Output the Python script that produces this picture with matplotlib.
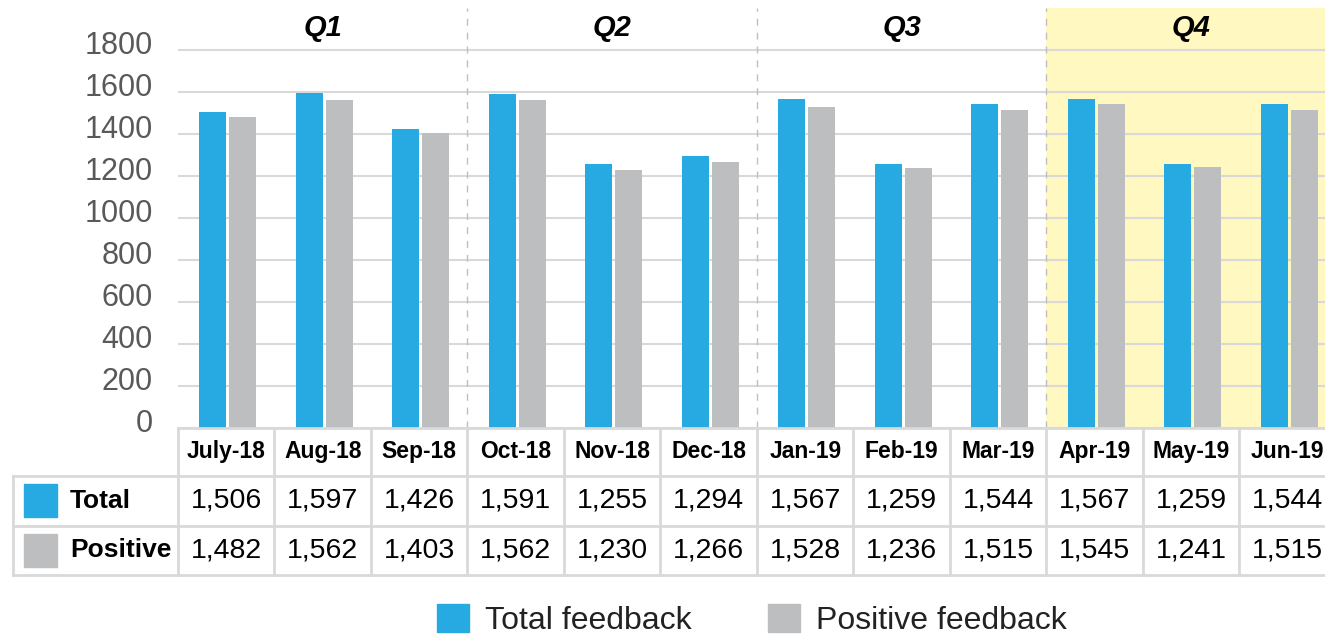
import matplotlib.pyplot as plt
import matplotlib.transforms as mtransforms
from matplotlib.patches import Rectangle, Patch

months = ["July-18", "Aug-18", "Sep-18", "Oct-18", "Nov-18", "Dec-18",
          "Jan-19", "Feb-19", "Mar-19", "Apr-19", "May-19", "Jun-19"]
total = [1506, 1597, 1426, 1591, 1255, 1294, 1567, 1259, 1544, 1567, 1259, 1544]
positive = [1482, 1562, 1403, 1562, 1230, 1266, 1528, 1236, 1515, 1545, 1241, 1515]
quarters = ["Q1", "Q2", "Q3", "Q4"]
row_labels = ["Total", "Positive"]
legend_labels = ["Total feedback", "Positive feedback"]

blue = "#27A9E1"
gray = "#BDBEC0"
grid_c = "#D9D9D9"

plt.rcParams['font.family'] = ['Liberation Sans', 'DejaVu Sans']

W, H = 1325, 635
fig = plt.figure(figsize=(W / 100, H / 100), dpi=100)
# plot area: x from 178px, bottom at 428px, 12 columns of ~96.5px (cropped on right)
ax = fig.add_axes([178 / W, 1 - 428 / H, 12 * 96.5 / W, 420 / H])
ax.set_xlim(-0.5, 11.5)
ax.set_ylim(0, 2000)

x = list(range(len(months)))
ax.axvspan(8.5, 11.5, color="#FFF8C1", zorder=0, lw=0)
ax.bar([i - 0.14 for i in x], total, width=0.28, color=blue, zorder=3)
ax.bar([i + 0.17 for i in x], positive, width=0.28, color=gray, zorder=3)

ax.set_yticks(range(0, 1801, 200))
ax.yaxis.grid(True, color=grid_c, lw=1.5, zorder=1)
ax.set_axisbelow(True)
ax.tick_params(axis='y', length=0, pad=18, labelsize=22, labelcolor="#595959")
# labels sit a little above their gridlines
up = mtransforms.ScaledTranslation(0, 8 / 100, fig.dpi_scale_trans)
for lbl in ax.get_yticklabels():
    lbl.set_transform(lbl.get_transform() + up)
ax.set_xticks([])
for s in ax.spines.values():
    s.set_visible(False)

ax.vlines([2.5, 5.5, 8.5], 0, 2000, colors="#BFBFBF", linestyles=(0, (5, 5)), lw=1, zorder=2)
for qi, q in enumerate(quarters):
    ax.text(qi * 3 + 1, 1905, q, ha='center', va='center', fontsize=21,
            fontweight='bold', fontstyle='italic', color='black')

# data table under the plot
trans = ax.get_xaxis_transform()
left = (13 - 178) / 96.5 - 0.5
y_rows = [0, -0.114, -0.233, -0.35]
lk = dict(color=grid_c, lw=2, transform=trans, clip_on=False, zorder=4)
ax.plot([-0.5, 11.5], [y_rows[0]] * 2, **lk)
for yy in y_rows[1:]:
    ax.plot([left, 11.5], [yy] * 2, **lk)
ax.plot([left, left], [y_rows[1], y_rows[3]], **lk)
for b in [i - 0.5 for i in range(13)]:
    ax.plot([b, b], [y_rows[0], y_rows[3]], **lk)

for i, m in enumerate(months):
    ax.text(i, (y_rows[0] + y_rows[1]) / 2, m, transform=trans, ha='center', va='center',
            fontsize=16.5, fontweight='bold', clip_on=False)
    ax.text(i, (y_rows[1] + y_rows[2]) / 2, f"{total[i]:,}", transform=trans,
            ha='center', va='center', fontsize=20.5, clip_on=False)
    ax.text(i, (y_rows[2] + y_rows[3]) / 2, f"{positive[i]:,}", transform=trans,
            ha='center', va='center', fontsize=20.5, clip_on=False)

sq_x = (24 - 178) / 96.5 - 0.5
sq_w = 33 / 96.5
txt_x = (70 - 178) / 96.5 - 0.5
for r, (lab, c) in enumerate(zip(row_labels, [blue, gray])):
    yc = (y_rows[r + 1] + y_rows[r + 2]) / 2
    ax.add_patch(Rectangle((sq_x, yc - 0.039), sq_w, 0.078, color=c, transform=trans,
                           clip_on=False, zorder=5))
    ax.text(txt_x, yc, lab, transform=trans, ha='left', va='center', fontsize=19,
            fontweight='bold', clip_on=False)

handles = [Patch(color=blue), Patch(color=gray)]
fig.legend(handles, legend_labels, loc='center', bbox_to_anchor=(752 / W, 1 - 620 / H),
           ncol=2, frameon=False, fontsize=23, handlelength=1.0, handleheight=1.0,
           handletextpad=0.5, columnspacing=2.4, labelcolor='#222222')

fig.savefig("out.png", dpi=100)
